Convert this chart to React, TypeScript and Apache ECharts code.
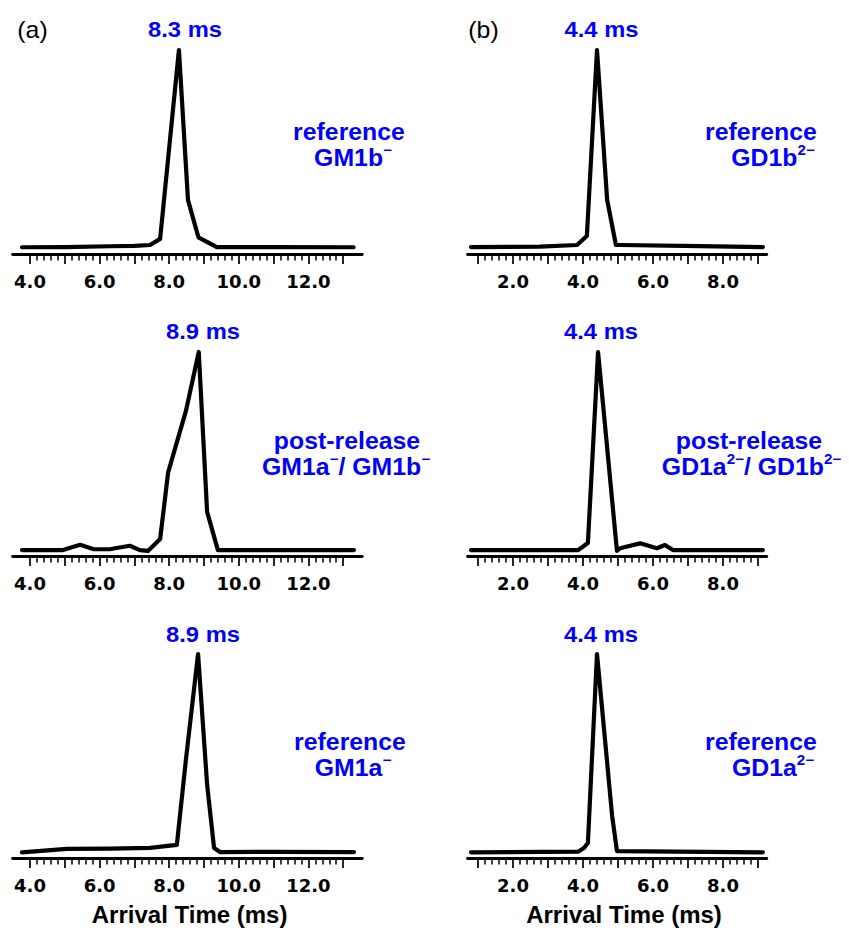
import React, { useEffect, useRef } from 'react';
import * as echarts from 'echarts';

// ---------- DATA (arrival time in ms, normalized intensity) ----------
// Panel (a): GM1 species
const gm1bRefTime = [3.77, 5.0, 6.3, 7.0, 7.45, 7.74, 8.28, 8.54, 8.84, 9.37, 11.0, 13.3];
const gm1bRefInt = [0.033, 0.034, 0.038, 0.04, 0.044, 0.074, 1.0, 0.265, 0.082, 0.034, 0.034, 0.033];

const gm1PostTime = [3.77, 4.95, 5.44, 5.81, 6.3, 6.45, 6.87, 7.16, 7.39, 7.74, 7.97, 8.48, 8.85, 9.09, 9.4, 11.0, 13.31];
const gm1PostInt = [0.029, 0.029, 0.055, 0.034, 0.033, 0.038, 0.05, 0.029, 0.025, 0.083, 0.41, 0.71, 1.0, 0.216, 0.029, 0.029, 0.029];

const gm1aRefTime = [3.77, 5.06, 6.3, 7.45, 8.22, 8.48, 8.83, 9.09, 9.29, 9.46, 11.0, 13.31];
const gm1aRefInt = [0.028, 0.045, 0.046, 0.05, 0.064, 0.48, 1.0, 0.36, 0.049, 0.029, 0.03, 0.029];

// Panel (b): GD1 species
const gd1bRefTime = [0.8, 2.77, 3.83, 4.11, 4.4, 4.69, 4.94, 5.06, 7.34, 9.14];
const gd1bRefInt = [0.034, 0.036, 0.044, 0.088, 1.0, 0.265, 0.044, 0.044, 0.039, 0.034];

const gd1PostTime = [0.8, 3.86, 4.14, 4.43, 4.97, 5.06, 5.63, 6.11, 6.34, 6.57, 9.14];
const gd1PostInt = [0.029, 0.029, 0.064, 1.0, 0.025, 0.038, 0.062, 0.038, 0.054, 0.029, 0.029];

const gd1aRefTime = [0.8, 3.86, 4.03, 4.14, 4.4, 4.83, 4.97, 9.14];
const gd1aRefInt = [0.028, 0.031, 0.049, 0.074, 1.0, 0.21, 0.034, 0.028];

// ---------- TEXT ----------
const tickLabelsA = ['4.0', '6.0', '8.0', '10.0', '12.0'];
const tickLabelsB = ['2.0', '4.0', '6.0', '8.0'];
const peakLabels = ['8.3 ms', '4.4 ms', '8.9 ms', '4.4 ms', '8.9 ms', '4.4 ms'];
const conditionLabels = ['reference', 'reference', 'post-release', 'post-release', 'reference', 'reference'];
const speciesLabels = [
  '{m|GM1b}{s|−}',
  '{m|GD1b}{s|2−}',
  '{m|GM1a}{s|−}{m|/ GM1b}{s|−}',
  '{m|GD1a}{s|2−}{m|/ GD1b}{s|2−}',
  '{m|GM1a}{s|−}',
  '{m|GD1a}{s|2−}',
];
const panelTags = ['(a)', '(b)'];
const axisTitle = 'Arrival Time (ms)';

// ---------- LAYOUT ----------
const COLS = [
  { dataMin: 3.5, dataMax: 13.55, dataLeft: 12.6, dataWidth: 349.7, tickMin: 4, tickMax: 13, tickLeft: 30, tickWidth: 313.2, labels: tickLabelsA, nameShift: 6 },
  { dataMin: 0.7, dataMax: 9.25, dataLeft: 467.5, dataWidth: 299.25, tickMin: 1, tickMax: 9, tickLeft: 478, tickWidth: 280, labels: tickLabelsB, nameShift: 12 },
];
const ROW_TOP = [50, 352, 654];
const PLOT_H = 204;
const BLUE = '#0000ff';

const panels = [
  { t: gm1bRefTime, v: gm1bRefInt, row: 0, col: 0 },
  { t: gd1bRefTime, v: gd1bRefInt, row: 0, col: 1 },
  { t: gm1PostTime, v: gm1PostInt, row: 1, col: 0 },
  { t: gd1PostTime, v: gd1PostInt, row: 1, col: 1 },
  { t: gm1aRefTime, v: gm1aRefInt, row: 2, col: 0 },
  { t: gd1aRefTime, v: gd1aRefInt, row: 2, col: 1 },
];

const peakPos = [
  [185, 29], [601.5, 29],
  [203, 331], [601, 331],
  [203, 634], [601, 634],
];
const condPos = [
  [349, 132], [761, 132],
  [347, 441], [749, 441],
  [350, 742], [761, 742],
];
const specPos = [
  [353, 158], [773, 158],
  [346, 467], [751.5, 467],
  [353, 768], [773, 768],
];
const tagPos = [[32.5, 30], [483.5, 30]];

function buildOption() {
  const grid: any[] = [];
  const xAxis: any[] = [];
  const yAxis: any[] = [];
  const series: any[] = [];

  panels.forEach((p) => {
    const c = COLS[p.col];
    const top = ROW_TOP[p.row];
    const gA = grid.length;
    grid.push({ left: c.dataLeft, top, width: c.dataWidth, height: PLOT_H });
    grid.push({ left: c.tickLeft, top, width: c.tickWidth, height: PLOT_H });

    xAxis.push({
      gridIndex: gA,
      type: 'value',
      min: c.dataMin,
      max: c.dataMax,
      axisLine: { show: true, onZero: false, lineStyle: { color: '#000', width: 2.8 } },
      axisTick: { show: false },
      axisLabel: { show: false },
      splitLine: { show: false },
    });
    xAxis.push({
      gridIndex: gA + 1,
      type: 'value',
      min: c.tickMin,
      max: c.tickMax,
      interval: 1,
      axisLine: { show: false, onZero: false },
      axisTick: { show: true, length: 10, lineStyle: { color: '#000', width: 1.7 } },
      minorTick: { show: true, splitNumber: 5, length: 6.5, lineStyle: { color: '#000', width: 1.5 } },
      splitLine: { show: false },
      minorSplitLine: { show: false },
      axisLabel: {
        show: true,
        margin: 18,
        color: '#000',
        fontFamily: 'DejaVu Sans',
        fontWeight: 'bold',
        fontSize: 18,
        formatter: (val: number) => {
          const s = val.toFixed(1);
          return c.labels.includes(s) ? s : '';
        },
      },
      name: p.row === 2 ? axisTitle : '',
      nameLocation: 'middle',
      nameGap: 44,
      nameTextStyle: {
        color: '#000',
        fontFamily: 'Arial, Liberation Sans',
        fontWeight: 'bold',
        fontSize: 24,
        padding: [0, 0, 0, c.nameShift],
      },
    });
    yAxis.push({ gridIndex: gA, type: 'value', min: 0, max: 1, show: false });
    yAxis.push({ gridIndex: gA + 1, type: 'value', min: 0, max: 1, show: false });

    series.push({
      type: 'line',
      xAxisIndex: gA,
      yAxisIndex: gA,
      data: p.t.map((t, i) => [t, p.v[i]]),
      showSymbol: false,
      symbol: 'none',
      clip: false,
      silent: true,
      lineStyle: { color: '#000', width: 4.2, join: 'round', cap: 'round' },
    });
  });

  const font = 'Arial, Liberation Sans';
  const graphic: any[] = [];
  peakLabels.forEach((txt, i) => {
    graphic.push({
      type: 'text',
      x: peakPos[i][0],
      y: peakPos[i][1],
      scaleX: 1.08,
      style: {
        text: txt, fill: BLUE, fontFamily: font, fontWeight: 'bold', fontSize: 22,
        align: 'center', verticalAlign: 'middle', textAlign: 'center', textVerticalAlign: 'middle',
      },
    });
  });
  conditionLabels.forEach((txt, i) => {
    graphic.push({
      type: 'text',
      x: condPos[i][0],
      y: condPos[i][1],
      scaleX: 1.08,
      style: {
        text: txt, fill: BLUE, fontFamily: font, fontWeight: 'bold', fontSize: 23,
        align: 'center', verticalAlign: 'middle', textAlign: 'center', textVerticalAlign: 'middle',
      },
    });
  });
  speciesLabels.forEach((txt, i) => {
    graphic.push({
      type: 'text',
      x: specPos[i][0],
      y: specPos[i][1],
      scaleX: 1.08,
      style: {
        text: txt, fill: BLUE, fontFamily: font, fontWeight: 'bold', fontSize: 23,
        align: 'center', verticalAlign: 'middle', textAlign: 'center', textVerticalAlign: 'middle',
        rich: {
          m: { fill: BLUE, fontFamily: font, fontWeight: 'bold', fontSize: 23, lineHeight: 30 },
          s: { fill: BLUE, fontFamily: font, fontWeight: 'bold', fontSize: 14, lineHeight: 12, verticalAlign: 'top' },
        },
      },
    });
  });
  panelTags.forEach((txt, i) => {
    graphic.push({
      type: 'text',
      x: tagPos[i][0],
      y: tagPos[i][1],
      scaleX: 1.08,
      style: {
        text: txt, fill: '#000', fontFamily: font, fontWeight: 'normal', fontSize: 23,
        align: 'center', verticalAlign: 'middle', textAlign: 'center', textVerticalAlign: 'middle',
      },
    });
  });

  return {
    animation: false,
    backgroundColor: '#fff',
    grid,
    xAxis,
    yAxis,
    series,
    graphic,
  };
}

export default function App() {
  const ref = useRef<HTMLDivElement>(null);
  useEffect(() => {
    if (!ref.current) return;
    const chart = echarts.init(ref.current, null, { renderer: 'svg' });
    chart.setOption(buildOption() as any);
    return () => chart.dispose();
  }, []);
  return (
    <div
      ref={ref}
      style={{ position: 'absolute', left: 0, top: 0, width: 849, height: 928 }}
    />
  );
}
